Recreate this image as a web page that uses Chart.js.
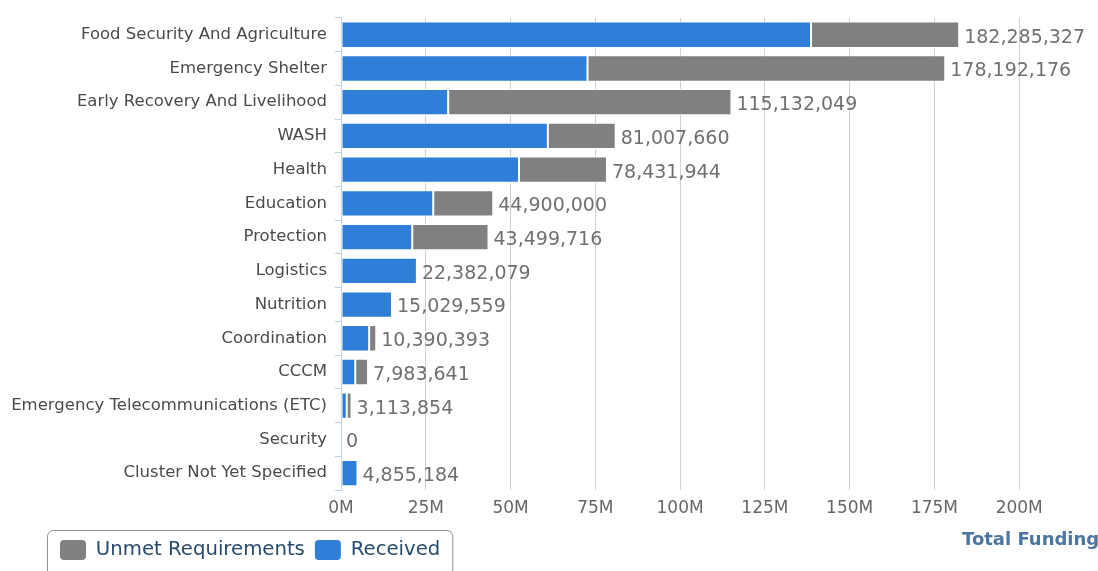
<!DOCTYPE html>
<html>
<head>
<meta charset="utf-8">
<script src="https://cdn.jsdelivr.net/npm/chart.js@4.4.1/dist/chart.umd.min.js"></script>
<style>
  html, body { margin: 0; padding: 0; background: #ffffff; overflow: hidden; }
  #wrap { position: absolute; left: 0; top: 0; width: 1140px; height: 590px; }
</style>
</head>
<body>
<div id="wrap"><canvas id="c" width="1140" height="590"></canvas></div>
<script>
const categories = [
  "Food Security And Agriculture",
  "Emergency Shelter",
  "Early Recovery And Livelihood",
  "WASH",
  "Health",
  "Education",
  "Protection",
  "Logistics",
  "Nutrition",
  "Coordination",
  "CCCM",
  "Emergency Telecommunications (ETC)",
  "Security",
  "Cluster Not Yet Specified"
];
// values in USD
const received = [138600000, 72700000, 31600000, 61000000, 52500000, 27200000, 21000000, 22382079, 15029559, 8300000, 4200000, 1700000, 0, 4855184];
const unmet    = [43685327, 105492176, 83532049, 20007660, 25931944, 17700000, 22499716, 0, 0, 2090393, 3783641, 1413854, 0, 0];
const totalLabels = ["182,285,327", "178,192,176", "115,132,049", "81,007,660", "78,431,944", "44,900,000", "43,499,716", "22,382,079", "15,029,559", "10,390,393", "7,983,641", "3,113,854", "0", "4,855,184"];
const xTicks = [0, 25000000, 50000000, 75000000, 100000000, 125000000, 150000000, 175000000, 200000000, 225000000];
const xTickLabels = ["0M", "25M", "50M", "75M", "100M", "125M", "150M", "175M", "200M", ""];

const FONT = "'DejaVu Sans', Verdana, sans-serif";
const LEGEND_SHIFT = 50;

const totalsPlugin = {
  id: 'totals',
  afterLayout(chart) {
    const lg = chart.legend;
    if (lg && !lg._shifted) {
      lg.left += LEGEND_SHIFT;
      if (lg.legendHitBoxes) lg.legendHitBoxes.forEach(h => { h.left += LEGEND_SHIFT; });
      lg._shifted = true;
    }
  },
  afterDatasetsDraw(chart) {
    const ctx = chart.ctx;
    const meta = chart.getDatasetMeta(1);
    const metaR = chart.getDatasetMeta(0);
    ctx.save();
    ctx.font = "19px " + FONT;
    ctx.fillStyle = "#707070";
    ctx.textAlign = "left";
    ctx.textBaseline = "middle";
    meta.data.forEach((bar, i) => {
      const endX = Math.max(bar.x, metaR.data[i].x);
      ctx.fillText(totalLabels[i], endX + 5, bar.y + 3);
    });
    ctx.restore();
  },
  afterDraw(chart) {
    const ctx = chart.ctx;
    const lg = chart.legend;
    if (lg && lg.legendHitBoxes && lg.legendHitBoxes.length) {
      const hb = lg.legendHitBoxes;
      const left = hb[0].left - 13;
      const right = hb[hb.length - 1].left + hb[hb.length - 1].width + 12;
      const top = lg.top;
      const bottom = top + 70;
      const r = 6;
      ctx.save();
      ctx.strokeStyle = "#909090";
      ctx.lineWidth = 1;
      ctx.beginPath();
      ctx.moveTo(left + 0.5 + r, top + 0.5);
      ctx.lineTo(right + 0.5 - r, top + 0.5);
      ctx.arcTo(right + 0.5, top + 0.5, right + 0.5, top + 0.5 + r, r);
      ctx.lineTo(right + 0.5, bottom);
      ctx.moveTo(left + 0.5, bottom);
      ctx.lineTo(left + 0.5, top + 0.5 + r);
      ctx.arcTo(left + 0.5, top + 0.5, left + 0.5 + r, top + 0.5, r);
      ctx.stroke();
      ctx.restore();
    }
    ctx.save();
    ctx.font = "bold 18px " + FONT;
    ctx.fillStyle = "#4d759e";
    ctx.textAlign = "left";
    ctx.textBaseline = "middle";
    ctx.fillText("Total Funding", 962, 540);
    ctx.restore();
  }
};

new Chart(document.getElementById('c'), {
  type: 'bar',
  data: {
    labels: categories,
    datasets: [
      {
        label: 'Received',
        data: received,
        backgroundColor: '#2f7ed8',
        borderColor: '#ffffff',
        borderWidth: 1,
        borderSkipped: false,
        categoryPercentage: 1.0,
        barPercentage: 0.78
      },
      {
        label: 'Unmet Requirements',
        data: unmet,
        backgroundColor: '#808080',
        borderColor: '#ffffff',
        borderWidth: 1,
        borderSkipped: false,
        categoryPercentage: 1.0,
        barPercentage: 0.78
      }
    ]
  },
  options: {
    indexAxis: 'y',
    responsive: false,
    animation: false,
    devicePixelRatio: 1,
    layout: { padding: { left: 0, top: 15, right: 36, bottom: 20 } },
    scales: {
      x: {
        stacked: true,
        min: 0,
        max: 225000000,
        afterBuildTicks(scale) { scale.ticks = xTicks.map(v => ({ value: v })); },
        afterFit(scale) { scale.height = 40; },
        grid: { color: '#d0d0d0', lineWidth: 1, drawTicks: false },
        border: { display: false },
        ticks: {
          padding: 8,
          color: '#666666',
          font: { family: FONT, size: 17 },
          callback: (v, i) => xTickLabels[i]
        }
      },
      y: {
        stacked: true,
        afterFit(scale) { scale.width = 341; },
        grid: { drawOnChartArea: false, drawTicks: true, tickLength: 6, color: '#c0d0e0', offset: true },
        border: { display: true, color: '#c0d0e0', width: 1 },
        ticks: {
          padding: 8,
          color: '#4a4a4a',
          font: { family: FONT, size: 16.5 }
        }
      }
    },
    plugins: {
      legend: {
        position: 'bottom',
        align: 'start',
        reverse: true,
        labels: {
          boxWidth: 26,
          boxHeight: 20,
          padding: 10,
          useBorderRadius: true,
          borderRadius: 4,
          color: '#274b6d',
          font: { family: FONT, size: 19.7 },
          generateLabels(chart) {
            const items = Chart.defaults.plugins.legend.labels.generateLabels(chart);
            items.forEach(it => { it.lineWidth = 0; it.strokeStyle = it.fillStyle; });
            return items;
          }
        }
      },
      tooltip: { enabled: false }
    }
  },
  plugins: [totalsPlugin]
});
</script>
</body>
</html>
